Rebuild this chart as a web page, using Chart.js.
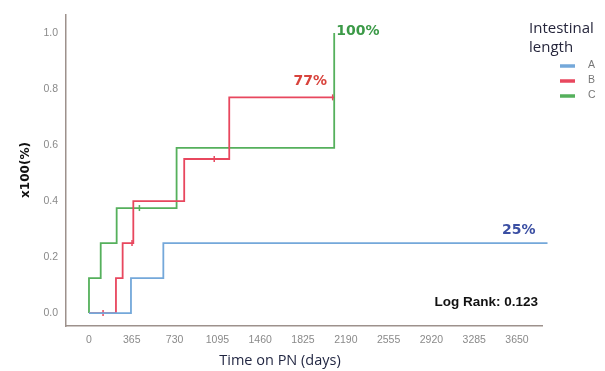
<!DOCTYPE html>
<html>
<head>
<meta charset="utf-8">
<script src="https://cdn.jsdelivr.net/npm/chart.js@4"></script>
<style>
  html, body { margin: 0; padding: 0; background: #fff; }
  #wrap { width: 605px; height: 371px; position: relative; }
</style>
</head>
<body>
<div id="wrap"><canvas id="km"></canvas></div>
<script>
// Cumulative incidence by intestinal length group (days on PN vs fraction)
const groupNames = ['A', 'B', 'C'];
const groupColors = ['#74a8da', '#e8475e', '#55b05c'];

// step curves: [day, cumulative fraction]
const curveA = [[0, 0], [358, 0.125], [634, 0.25], [3910, 0.25]];
const curveB = [[0, 0], [230, 0.125], [287, 0.25], [378, 0.40], [812, 0.55], [1196, 0.77], [2090, 0.77]];
const curveC = [[0, 0], [0, 0.125], [100, 0.25], [236, 0.375], [747, 0.59], [2091, 1.0]];

// censored observations: [day, fraction]
const censorB = [[120, 0], [367, 0.25], [1068, 0.55], [2078, 0.77]];
const censorC = [[430, 0.375]];

const xTickValues = [0, 365, 730, 1095, 1460, 1825, 2190, 2555, 2920, 3285, 3650];
const yTickValues = [0, 0.2, 0.4, 0.6, 0.8, 1.0];

const finalLabels = [
  { text: '25%', color: '#3b4fa3', at: [3910, 0.25], align: 'right', dx: -12, dy: -13 },
  { text: '77%', color: '#d8433c', at: [2090, 0.77], align: 'right', dx: -7, dy: -16 },
  { text: '100%', color: '#3c9a48', at: [2091, 1.0], align: 'left', dx: 2, dy: -2 }
];
const statText = 'Log Rank: 0.123';

const toPts = arr => arr.map(p => ({ x: p[0], y: p[1] }));

const curves = [curveA, curveB, curveC];
const datasets = curves.map((c, i) => ({
  label: groupNames[i],
  data: toPts(c),
  borderColor: groupColors[i],
  backgroundColor: groupColors[i],
  borderWidth: 1.8,
  stepped: 'before',
  pointRadius: 0,
  fill: false,
  clip: false
}));
[[censorB, 1], [censorC, 2]].forEach(([pts, gi]) => {
  datasets.push({
    type: 'scatter',
    label: groupNames[gi] + ' censored',
    data: toPts(pts),
    pointStyle: 'line',
    rotation: 90,
    pointRadius: 3,
    borderColor: groupColors[gi],
    borderWidth: 1.5,
    showLine: false
  });
});

const tickFont = "'Liberation Sans', Arial, sans-serif";
const boldFont = "'DejaVu Sans', sans-serif";

const annotations = {
  id: 'annotations',
  afterDatasetsDraw(chart) {
    const { ctx, scales: { x, y } } = chart;
    ctx.save();
    ctx.textBaseline = 'middle';
    // value labels at curve ends
    finalLabels.forEach(l => {
      ctx.font = "bold 14px " + boldFont;
      ctx.fillStyle = l.color;
      ctx.textAlign = l.align;
      ctx.fillText(l.text, x.getPixelForValue(l.at[0]) + l.dx, y.getPixelForValue(l.at[1]) + l.dy);
    });
    // log-rank statistic
    ctx.font = "bold 13.5px " + tickFont;
    ctx.fillStyle = '#111';
    ctx.textAlign = 'right';
    ctx.fillText(statText, 538, 302);

    // axis titles
    ctx.font = "bold 12px " + boldFont;
    ctx.fillStyle = '#111';
    ctx.textAlign = 'center';
    ctx.save();
    ctx.translate(26, 170);
    ctx.rotate(-Math.PI / 2);
    ctx.fillText('x100(%)', 0, 0);
    ctx.restore();
    ctx.font = "14.5px 'Open Sans', sans-serif";
    ctx.fillStyle = '#1f2440';
    ctx.fillText('Time on PN (days)', 280, 361);

    // legend
    ctx.textAlign = 'left';
    ctx.font = "15px 'Open Sans', sans-serif";
    ctx.fillStyle = '#26263c';
    ctx.fillText('Intestinal', 529, 29);
    ctx.fillText('length', 529, 48);
    const rows = [66, 81, 96];
    groupNames.forEach((g, i) => {
      ctx.strokeStyle = groupColors[i];
      ctx.lineWidth = 3.5;
      ctx.beginPath();
      ctx.moveTo(560, rows[i]);
      ctx.lineTo(575, rows[i]);
      ctx.stroke();
      ctx.font = "10.5px " + tickFont;
      ctx.fillStyle = '#777';
      ctx.fillText(g, 588, rows[i] - 1);
    });
    ctx.restore();
  }
};

new Chart(document.getElementById('km'), {
  type: 'line',
  data: { datasets },
  options: {
    responsive: true,
    maintainAspectRatio: false,
    animation: false,
    layout: { padding: { left: 0, right: 63, top: 15, bottom: 0 } },
    plugins: { legend: { display: false }, tooltip: { enabled: false } },
    scales: {
      x: {
        type: 'linear',
        min: -196,
        max: 3863,
        afterBuildTicks: s => { s.ticks = xTickValues.map(v => ({ value: v })); },
        afterFit: s => { s.height = 45; },
        grid: { display: false, drawTicks: false },
        border: { color: '#9d918c', width: 1.5 },
        ticks: {
          padding: 8,
          color: '#8a8a8a',
          font: { size: 10.5, family: tickFont },
          maxRotation: 0,
          autoSkip: false,
          callback: v => String(v)
        }
      },
      y: {
        type: 'linear',
        min: -0.046,
        max: 1.064,
        afterBuildTicks: s => { s.ticks = yTickValues.map(v => ({ value: v })); },
        afterFit: s => { s.width = 66; },
        grid: { display: false, drawTicks: false },
        border: { color: '#9d918c', width: 1.5 },
        ticks: {
          padding: 8,
          color: '#8a8a8a',
          font: { size: 10.5, family: tickFont },
          callback: v => v.toFixed(1)
        }
      }
    }
  },
  plugins: [annotations]
});
</script>
</body>
</html>
